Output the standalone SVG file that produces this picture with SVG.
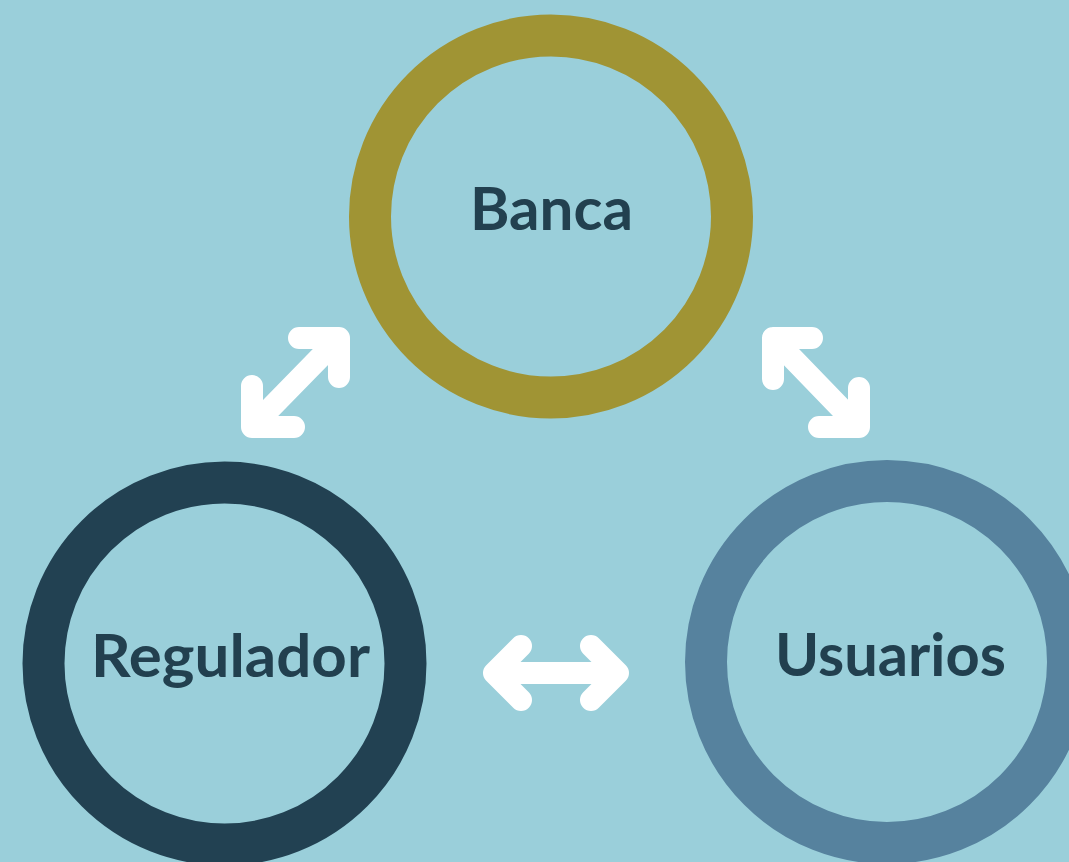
<svg xmlns="http://www.w3.org/2000/svg" width="1069" height="862" viewBox="0 0 1069 862">
<style>
.ring{fill:none;stroke-width:42}
.lbl{font-family:Lato,"Open Sans","Liberation Sans",sans-serif;font-weight:bold;font-size:59px;fill:#22404f;text-anchor:middle}
.arr{fill:none;stroke:#ffffff;stroke-width:22;stroke-linecap:round;stroke-linejoin:round}
</style>
<rect width="1069" height="862" fill="#9acfda"/>
<g id="banca">
<circle class="ring" cx="551" cy="216.5" r="181" stroke="#a09434"/>
<text class="lbl" x="551.5" y="230" textLength="163" lengthAdjust="spacingAndGlyphs">Banca</text>
</g>
<g id="regulador">
<circle class="ring" cx="224.5" cy="663.5" r="181" stroke="#224152"/>
<text class="lbl" x="230.5" y="677" textLength="279" lengthAdjust="spacingAndGlyphs">Regulador</text>
</g>
<g id="usuarios">
<circle class="ring" cx="887" cy="662" r="181" stroke="#56829e"/>
<text class="lbl" x="890.5" y="676" textLength="231" lengthAdjust="spacingAndGlyphs">Usuarios</text>
</g>
<g id="connectors">
<path class="arr" d="M299 338H339V377M339 338L252 427M252 386V427H294"/>
<path class="arr" d="M812 338H773V379M773 338L859 427M859 388V427H819"/>
<path class="arr" d="M521 646L494 673L521 700M494 673H618M591 646L618 673L591 700"/>
</g>
</svg>
